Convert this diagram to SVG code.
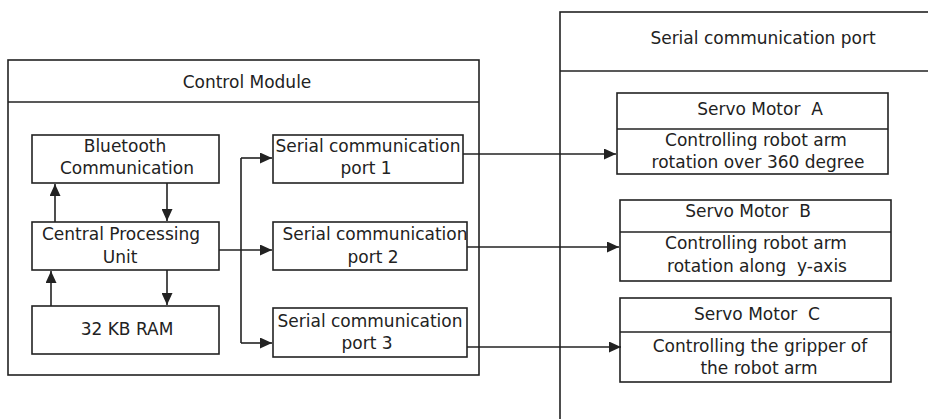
<svg xmlns="http://www.w3.org/2000/svg" width="928" height="419" viewBox="0 0 928 419">
<style>
.box{fill:#fff;stroke:#222;stroke-width:1.6}
.cont{fill:none;stroke:#222;stroke-width:1.6}
.ln{fill:none;stroke:#222;stroke-width:1.6}
text{font-family:"DejaVu Sans","Liberation Sans",sans-serif;font-size:17px;fill:#222;text-anchor:middle;white-space:pre}
</style>
<defs>
<marker id="ah" markerUnits="userSpaceOnUse" markerWidth="13" markerHeight="11" refX="12" refY="5.5" orient="auto">
<path d="M0,0 L12,5.5 L0,11 z" fill="#222"/>
</marker>
</defs>
<rect width="928" height="419" fill="#fff"/>
<g id="control-module">
<rect class="cont" x="8" y="60" width="471" height="315"/>
<line class="ln" x1="8" y1="102" x2="479" y2="102"/>
<text x="247" y="88">Control Module</text>
</g>
<g id="serial-port-container">
<rect class="cont" x="560" y="12" width="400" height="430"/>
<line class="ln" x1="560" y1="71" x2="928" y2="71"/>
<text x="763" y="44">Serial communication port</text>
</g>
<g id="bluetooth">
<rect class="box" x="32" y="135" width="187" height="48"/>
<text x="125" y="152">Bluetooth</text>
<text x="127" y="174">Communication</text>
</g>
<g id="cpu">
<rect class="box" x="32" y="222" width="187" height="48"/>
<text x="121" y="240">Central Processing</text>
<text x="120" y="263">Unit</text>
</g>
<g id="ram">
<rect class="box" x="32" y="306" width="187" height="48"/>
<text x="127" y="335">32 KB RAM</text>
</g>
<g id="port1">
<rect class="box" x="273" y="135" width="190" height="48"/>
<text x="368" y="152">Serial communication</text>
<text x="366" y="174">port 1</text>
</g>
<g id="port2">
<rect class="box" x="273" y="222" width="194" height="48"/>
<text x="375" y="240">Serial communication</text>
<text x="373" y="263">port 2</text>
</g>
<g id="port3">
<rect class="box" x="273" y="308" width="194" height="49"/>
<text x="370" y="327">Serial communication</text>
<text x="367" y="349">port 3</text>
</g>
<g id="servo-a">
<rect class="box" x="617" y="93" width="271" height="81"/>
<line class="ln" x1="617" y1="129" x2="888" y2="129"/>
<text x="760" y="115">Servo Motor  A</text>
<text x="756" y="146">Controlling robot arm</text>
<text x="758" y="168">rotation over 360 degree</text>
</g>
<g id="servo-b">
<rect class="box" x="620" y="200" width="271" height="81"/>
<line class="ln" x1="620" y1="232" x2="891" y2="232"/>
<text x="748" y="217">Servo Motor  B</text>
<text x="756" y="249">Controlling robot arm</text>
<text x="757" y="272">rotation along  y-axis</text>
</g>
<g id="servo-c">
<rect class="box" x="620" y="298" width="271" height="84"/>
<line class="ln" x1="620" y1="332" x2="891" y2="332"/>
<text x="757" y="320">Servo Motor  C</text>
<text x="760" y="352">Controlling the gripper of</text>
<text x="759" y="374">the robot arm</text>
</g>
<g id="connectors">
<line class="ln" x1="55" y1="222" x2="55" y2="184" marker-end="url(#ah)"/>
<line class="ln" x1="167" y1="183" x2="167" y2="221" marker-end="url(#ah)"/>
<line class="ln" x1="167" y1="270" x2="167" y2="305" marker-end="url(#ah)"/>
<line class="ln" x1="51" y1="306" x2="51" y2="271" marker-end="url(#ah)"/>
<line class="ln" x1="219" y1="250" x2="272" y2="250" marker-end="url(#ah)"/>
<line class="ln" x1="241" y1="158" x2="241" y2="343"/>
<line class="ln" x1="241" y1="158" x2="272" y2="158" marker-end="url(#ah)"/>
<line class="ln" x1="241" y1="343" x2="272" y2="343" marker-end="url(#ah)"/>
<line class="ln" x1="463" y1="154" x2="616" y2="154" marker-end="url(#ah)"/>
<line class="ln" x1="467" y1="247" x2="619" y2="247" marker-end="url(#ah)"/>
<line class="ln" x1="467" y1="347" x2="621" y2="347" marker-end="url(#ah)"/>
</g>
</svg>
